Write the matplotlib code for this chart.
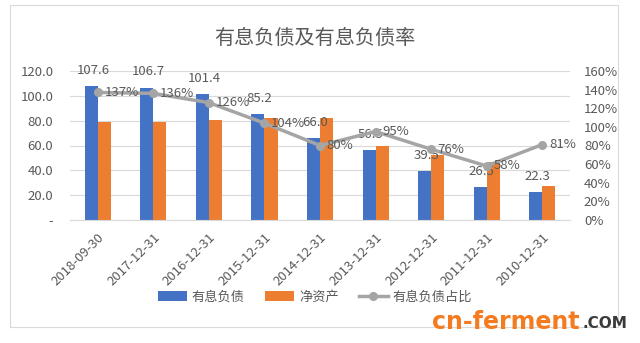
import matplotlib.pyplot as plt
import numpy as np
from matplotlib.patches import Rectangle

plt.rcParams['font.family'] = ['Noto Sans CJK SC', 'DejaVu Sans']

# data
dates = ['2018-09-30', '2017-12-31', '2016-12-31', '2015-12-31', '2014-12-31',
         '2013-12-31', '2012-12-31', '2011-12-31', '2010-12-31']
debt = [107.6, 106.7, 101.4, 85.2, 66.0, 56.5, 39.5, 26.5, 22.3]
net_assets = [79.0, 79.0, 80.5, 82.0, 82.5, 60.0, 52.0, 47.0, 27.6]
ratio = [137, 136, 126, 104, 80, 95, 76, 58, 81]

blue = '#4472C4'
orange = '#ED7D31'
gray = '#A5A5A5'
txt = '#595959'

fig = plt.figure(figsize=(6.4, 3.43), dpi=100)
# chart border
fig.patches.append(Rectangle((10 / 640, 1 - 327 / 343), 608 / 640, 322 / 343,
                             transform=fig.transFigure, fill=False,
                             edgecolor='#D9D9D9', linewidth=0.8))

ax = fig.add_axes([70 / 640, 1 - 220 / 343, 500 / 640, 149 / 343])
x = np.arange(len(dates))
w = 0.235
ax.bar(x - w / 2, debt, w, color=blue, label='有息负债', zorder=2)
ax.bar(x + w / 2, net_assets, w, color=orange, label='净资产', zorder=2)
for xi, v in zip(x, debt):
    ax.text(xi - w / 2 + 0.03, v + 12.5, f'{v:.1f}', ha='center', va='center',
            fontsize=9.5, color=txt, zorder=5)

ax.set_xlim(-0.5, len(dates) - 0.5)
ax.set_ylim(0, 120)
ax.set_yticks(range(0, 121, 20))
ax.set_yticklabels(['-'] + [f'{v:.1f}' for v in range(20, 121, 20)])
ax.grid(axis='y', color='#D9D9D9', linewidth=0.8, zorder=0)
ax.set_xticks(x)
ax.set_xticklabels(dates, rotation=45, ha='right', rotation_mode='anchor')
ax.tick_params(axis='both', length=0, labelsize=9.5, labelcolor=txt)
ax.tick_params(axis='y', pad=12)
ax.tick_params(axis='x', pad=8)
for s in ax.spines.values():
    s.set_visible(False)
ax.spines['bottom'].set_visible(True)
ax.spines['bottom'].set_color('#D9D9D9')

ax2 = ax.twinx()
ax2.plot(x, ratio, color=gray, linewidth=2.5, marker='o', markersize=5.5,
         label='有息负债占比', zorder=4)
for xi, v in zip(x, ratio):
    ax2.text(xi + 0.12, v, f'{v}%', ha='left', va='center', fontsize=9.5,
             color=txt, zorder=5)
ax2.set_ylim(0, 160)
ax2.set_yticks(range(0, 161, 20))
ax2.set_yticklabels([f'{v}%' for v in range(0, 161, 20)])
ax2.tick_params(axis='y', length=0, labelsize=9.5, labelcolor=txt, pad=10)
for s in ax2.spines.values():
    s.set_visible(False)

fig.text(315 / 640, 1 - 38 / 343, '有息负债及有息负债率', ha='center', va='center',
         fontsize=14.5, color=txt)

h1, l1 = ax.get_legend_handles_labels()
h2, l2 = ax2.get_legend_handles_labels()
fig.legend(h1 + h2, l1 + l2, loc='center', bbox_to_anchor=(315 / 640, 1 - 297 / 343),
           ncol=3, frameon=False, fontsize=9.5, labelcolor=txt,
           handlelength=2.2, columnspacing=1.5, handletextpad=0.4)

# watermark
fig.text(432 / 640, 1 - 322 / 343, 'cn-ferment', ha='left', va='center',
         fontsize=17, fontweight='bold', color='#F47B20', family='DejaVu Sans')
fig.text(627 / 640, 1 - 324 / 343, '.COM', ha='right', va='center',
         fontsize=11, fontweight='bold', color='#3A3A3A', family='DejaVu Sans')

fig.savefig('out.png', dpi=100)
